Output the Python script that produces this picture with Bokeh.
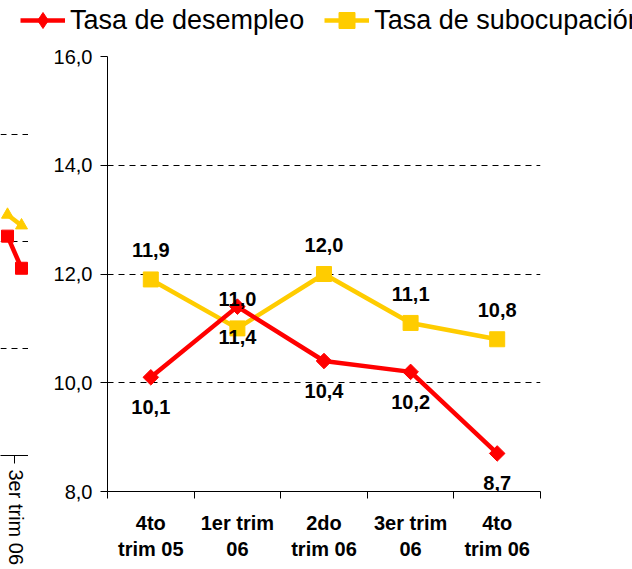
import numpy as np
from bokeh.plotting import figure
from bokeh.models import (Range1d, FixedTicker, CustomJSTickFormatter, Legend, LegendItem, Grid)
from bokeh.embed import file_html
from bokeh.resources import INLINE
from bokeh.core.properties import value

# ---- data (main chart) ----
categories = ["4to\ntrim 05", "1er trim\n06", "2do\ntrim 06", "3er trim\n06", "4to\ntrim 06"]
desempleo = [10.1, 11.4, 10.4, 10.2, 8.7]
subocupacion = [11.9, 11.0, 12.0, 11.1, 10.8]
y_ticks = [8, 10, 12, 14, 16]
series_names = ["Tasa de desempleo", "Tasa de subocupación"]

# ---- data (edge of the neighbouring chart visible at the left) ----
frag_categories = ["3er trim 06", "4to trim 06"]
frag_positions = [3, 4]
frag_desempleo = [12.1, 11.5]
frag_subocupacion = [12.5, 12.3]

FONT = "Liberation Sans"
RED = "#FF0000"
YEL = "#FFCC00"


def fmt(v):
    return ("%.1f" % v).replace(".", ",")


xs = [i + 0.5 for i in range(len(categories))]

# ---------------- main figure ----------------
p = figure(width=604, height=569, x_range=Range1d(0, len(categories)), y_range=Range1d(8, 16),
           output_backend="svg", toolbar_location=None, title=None,
           min_border_left=79, min_border_right=92, min_border_top=56, min_border_bottom=78,
           styles={"position": "absolute", "left": "28px", "top": "0px"})
p.outline_line_color = None
p.background_fill_color = "white"
p.border_fill_color = "white"
p.xgrid.visible = False
p.ygrid.ticker = FixedTicker(ticks=y_ticks)
p.ygrid.grid_line_color = "black"
p.ygrid.grid_line_dash = "6 5"
p.ygrid.grid_line_width = 1

xa = p.xaxis[0]
xa.ticker = FixedTicker(ticks=xs, minor_ticks=list(range(len(categories) + 1)))
xa.formatter = CustomJSTickFormatter(args=dict(labels=categories),
                                     code="return labels[Math.floor(tick)];")
xa.major_tick_out = 0
xa.major_tick_in = 0
xa.minor_tick_out = 7
xa.minor_tick_in = 0
xa.minor_tick_line_color = "black"
xa.axis_line_color = "black"
xa.major_label_text_font = FONT
xa.major_label_text_font_size = "20px"
xa.major_label_text_font_style = "bold"
xa.major_label_text_line_height = 1.2
xa.major_label_text_color = "black"
xa.major_label_standoff = 13

ya = p.yaxis[0]
ya.ticker = FixedTicker(ticks=y_ticks)
ya.formatter = CustomJSTickFormatter(code="return tick.toFixed(1).replace('.', ',');")
ya.major_tick_out = 7
ya.major_tick_in = 0
ya.minor_tick_out = 0
ya.minor_tick_in = 0
ya.axis_line_color = "black"
ya.major_tick_line_color = "black"
ya.major_label_standoff = 8
ya.major_label_text_font = FONT
ya.major_label_text_font_size = "20px"
ya.major_label_text_color = "black"

p.line(xs, subocupacion, line_color=YEL, line_width=4.5)
p.scatter(xs, subocupacion, marker="square", size=15, fill_color=YEL, line_color=YEL)
p.line(xs, desempleo, line_color=RED, line_width=4.5)
p.scatter(xs, desempleo, marker="square", angle=np.pi / 4, size=11, fill_color=RED, line_color=RED)

p.text(xs, subocupacion, text=[fmt(v) for v in subocupacion], y_offset=-29,
       text_align="center", text_baseline="middle", text_font=value(FONT),
       text_font_size="20px", text_font_style="bold", text_color="black")
p.text(xs, desempleo, text=[fmt(v) for v in desempleo], y_offset=30,
       text_align="center", text_baseline="middle", text_font=value(FONT),
       text_font_size="20px", text_font_style="bold", text_color="black")

# ---------------- legend strip (top of the picture) ----------------
lg = figure(width=632, height=44, x_range=Range1d(0, 1), y_range=Range1d(0, 1),
            output_backend="svg", toolbar_location=None, title=None,
            x_axis_location=None, y_axis_location=None,
            min_border_left=0, min_border_right=0, min_border_top=0, min_border_bottom=0,
            styles={"position": "absolute", "left": "0px", "top": "0px"})
lg.outline_line_color = None
lg.background_fill_alpha = 0
lg.border_fill_alpha = 0
for g in list(lg.grid):
    g.visible = False
lr1 = lg.line([np.nan], [np.nan], line_color=RED, line_width=4.5)
ls1 = lg.scatter([np.nan], [np.nan], marker="diamond", size=16, fill_color=RED, line_color=RED)
lr2 = lg.line([np.nan], [np.nan], line_color=YEL, line_width=4.5)
ls2 = lg.scatter([np.nan], [np.nan], marker="square", size=16, fill_color=YEL, line_color=YEL)
legend = Legend(items=[LegendItem(label=series_names[0], renderers=[lr1, ls1]),
                       LegendItem(label=series_names[1], renderers=[lr2, ls2])],
                location=(20, 4), orientation="horizontal", glyph_width=45, glyph_height=40,
                label_standoff=5, spacing=20, padding=0, margin=0,
                border_line_color=None, background_fill_alpha=0,
                label_text_font=FONT, label_text_font_size="27px", label_text_color="black")
lg.add_layout(legend)

# ---------------- fragment of the neighbouring chart ----------------
f = figure(width=28, height=569, x_range=Range1d(2.5, 4.5), y_range=Range1d(8, 16),
           output_backend="svg", toolbar_location=None, y_axis_location=None, title=None,
           min_border_left=0, min_border_right=0, min_border_top=27, min_border_bottom=114,
           styles={"position": "absolute", "left": "0px", "top": "0px"})
f.outline_line_color = None
f.xgrid.visible = False
for g in list(f.ygrid):
    g.visible = False
f.add_layout(Grid(dimension=1, ticker=FixedTicker(ticks=y_ticks), grid_line_color="black",
                  grid_line_dash="6 5", grid_line_width=1))
fa = f.xaxis[0]
fa.ticker = FixedTicker(ticks=[frag_positions[0]], minor_ticks=[frag_positions[0] + 0.5])
fa.formatter = CustomJSTickFormatter(args=dict(cats=frag_categories, pos=frag_positions),
                                     code="const i = pos.indexOf(tick); return i >= 0 ? cats[i] : '';")
fa.major_tick_out = 0
fa.major_tick_in = 0
fa.minor_tick_out = 8
fa.minor_tick_in = 0
fa.minor_tick_line_color = "black"
fa.axis_line_color = "black"
fa.major_label_orientation = "vertical"
fa.major_label_standoff = 6
fa.major_label_text_font = FONT
fa.major_label_text_font_size = "20px"
fa.major_label_text_color = "black"

f.line(frag_positions, frag_subocupacion, line_color=YEL, line_width=4.5)
f.scatter(frag_positions, frag_subocupacion, marker="triangle", size=12, fill_color=YEL, line_color=YEL)
f.line(frag_positions, frag_desempleo, line_color=RED, line_width=4.5)
f.scatter(frag_positions, frag_desempleo, marker="square", size=12, fill_color=RED, line_color=RED)

open("out.html", "w").write(file_html([f, p, lg], INLINE))
